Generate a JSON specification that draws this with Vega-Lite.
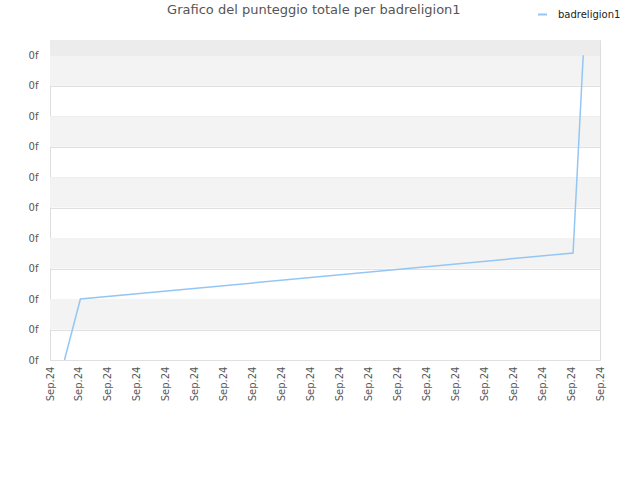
{
  "$schema": "https://vega.github.io/schema/vega-lite/v6.json",
  "width": 550, "height": 320,
  "autosize": {"type": "none"},
  "padding": {"left": 50, "top": 40, "right": 40, "bottom": 120},
  "background": "white",
  "title": {
    "text": "Grafico del punteggio totale per badreligion1",
    "font": "DejaVu Sans", "fontSize": 13, "fontWeight": "normal", "color": "#555555",
    "anchor": "start", "dx": 139, "dy": 30, "offset": 22
  },
  "config": {
    "view": {"stroke": "#dddddd", "strokeWidth": 1},
    "font": "DejaVu Sans",
    "axis": {"labelFont": "DejaVu Sans", "labelFontSize": 10, "labelColor": "#555555", "ticks": false, "domain": false}
  },
  "datasets": {
    "bands": [
      {"lo": 1, "hi": 2, "shade": "a"},
      {"lo": 3, "hi": 4, "shade": "a"},
      {"lo": 5, "hi": 6, "shade": "a"},
      {"lo": 7, "hi": 8, "shade": "a"},
      {"lo": 9, "hi": 10, "shade": "a"},
      {"lo": 10, "hi": 10.5, "shade": "b"}
    ],
    "score": [
      {"t": 0.5, "v": 0, "user": "badreligion1"},
      {"t": 1.05, "v": 2, "user": "badreligion1"},
      {"t": 18.07, "v": 3.51, "user": "badreligion1"},
      {"t": 18.42, "v": 10, "user": "badreligion1"}
    ]
  },
  "resolve": {"scale": {"fill": "independent", "stroke": "independent"}},
  "layer": [
    {
      "data": {"name": "bands"},
      "mark": {"type": "rect", "strokeWidth": 0},
      "encoding": {
        "y": {
          "field": "lo", "type": "quantitative",
          "scale": {"domain": [0, 10.5], "nice": false, "zero": false},
          "axis": {"title": null, "values": [0,1,2,3,4,5,6,7,8,9,10], "labelExpr": "'0f'", "grid": true, "gridColor": "#e0e0e0", "labelPadding": 12, "labelOverlap": false}
        },
        "y2": {"field": "hi"},
        "fill": {"field": "shade", "type": "nominal", "scale": {"domain": ["a", "b"], "range": ["#f3f3f3", "#ececec"]}, "legend": null}
      }
    },
    {
      "data": {"name": "score"},
      "mark": {"type": "line", "strokeWidth": 1.5, "interpolate": "linear"},
      "encoding": {
        "x": {
          "field": "t", "type": "quantitative",
          "scale": {"domain": [0, 19], "nice": false, "zero": false},
          "axis": {"title": null, "values": [0,1,2,3,4,5,6,7,8,9,10,11,12,13,14,15,16,17,18,19], "labelExpr": "'Sep.24'", "labelAngle": 270, "labelAlign": "right", "labelBaseline": "middle", "labelPadding": 6, "grid": false, "labelOverlap": false, "labelBound": false, "labelFlush": false}
        },
        "y": {
          "field": "v", "type": "quantitative",
          "scale": {"domain": [0, 10.5], "nice": false, "zero": false},
          "axis": {"title": null, "values": [0,1,2,3,4,5,6,7,8,9,10], "labelExpr": "'0f'", "grid": true, "gridColor": "#e0e0e0", "labelPadding": 12, "labelOverlap": false}
        },
        "stroke": {
          "field": "user", "type": "nominal",
          "scale": {"range": ["#94c6f4"]},
          "legend": {"title": null, "orient": "none", "legendX": 487, "legendY": -31, "symbolType": "stroke", "symbolStrokeWidth": 2, "symbolSize": 80, "labelFont": "DejaVu Sans", "labelFontSize": 10, "labelColor": "#222222", "labelOffset": 10}
        }
      }
    }
  ]
}
